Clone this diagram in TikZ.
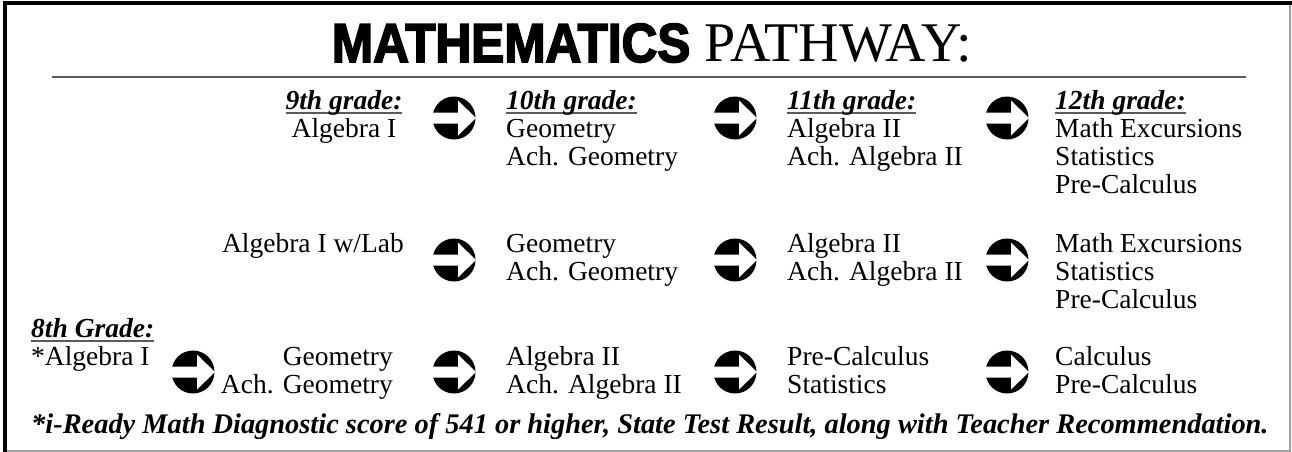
\documentclass[tikz,border=0pt]{standalone}
\usepackage{fontspec}
\setmainfont{Liberation Serif}
\newfontfamily\headfont[FakeStretch=0.9,FakeBold=3]{Liberation Sans}
\definecolor{rulegray}{HTML}{5A5A5A}
\definecolor{edgegray}{HTML}{A0A0A0}
\tikzset{course/.style={inner sep=0pt,font=\fontsize{27.5}{28}\selectfont},pics/nextsign/.style={code={\fill[black] (0,0) circle (21.5pt);\fill[white] (-23,-5.5)--(4,-5.5)--(4,-17.5)--(22,0)--(4,17.5)--(4,5.5)--(-23,5.5)--cycle;}}}
\newcommand\gradehead[1]{\setbox0\hbox{\bfseries\itshape #1}\rlap{\color{rulegray}\rule[-5pt]{\wd0}{1.8pt}}\box0}
\newcommand\stackL[1]{\begin{tabular}[t]{@{}l@{}}#1\end{tabular}}
\newcommand\stackR[1]{\begin{tabular}[t]{@{}r@{}}#1\end{tabular}}
\newcommand\stackC[1]{\begin{tabular}[t]{@{}c@{}}#1\end{tabular}}

\begin{document}
\begin{tikzpicture}[x=1pt,y=-1pt]
\useasboundingbox (0,0) rectangle (1292,452);
% frame and title
\draw[edgegray,line width=1.5pt] (1290,3.5)--(1290,451)--(4.5,451);
\draw[line width=4pt] (4.5,452)--(4.5,3.5)--(1292,3.5);
\node[inner sep=0pt,anchor=base,font=\fontsize{56}{56}\selectfont] (title) at (652,62) {{\headfont\bfseries\fontsize{55}{55}\selectfont MATHEMATICS} PATHWAY:};
\draw[rulegray,line width=1.8pt] (52,77)--(1246,77);
% first track
\node[course,anchor=base] (g9) at (344,109) {\stackC{\gradehead{9th grade:}\\Algebra I}};
\node[course,anchor=base west] (g10) at (506,109) {\stackL{\gradehead{10th grade:}\\Geometry\\Ach. Geometry}};
\node[course,anchor=base west] (g11) at (787,109) {\stackL{\gradehead{11th grade:}\\Algebra II\\Ach. Algebra II}};
\node[course,anchor=base west] (g12) at (1055,109) {\stackL{\gradehead{12th grade:}\\Math Excursions\\Statistics\\Pre-Calculus}};
% lab track
\node[course,anchor=base east] (lab9) at (404,252) {Algebra I w/Lab};
\node[course,anchor=base west] (lab10) at (506,252) {\stackL{Geometry\\Ach. Geometry}};
\node[course,anchor=base west] (lab11) at (787,252) {\stackL{Algebra II\\Ach. Algebra II}};
\node[course,anchor=base west] (lab12) at (1055,252) {\stackL{Math Excursions\\Statistics\\Pre-Calculus}};
% accelerated track
\node[course,anchor=base west] (g8) at (31,337) {\stackL{\gradehead{8th Grade:}\\{*}Algebra I}};
\node[course,anchor=base east] (adv9) at (393,365) {\stackR{Geometry\\Ach. Geometry}};
\node[course,anchor=base west] (adv10) at (506,365) {\stackL{Algebra II\\Ach. Algebra II}};
\node[course,anchor=base west] (adv11) at (787,365) {\stackL{Pre-Calculus\\Statistics}};
\node[course,anchor=base west] (adv12) at (1055,365) {\stackL{Calculus\\Pre-Calculus}};
\foreach \n/\x/\y in {a9/454/118,a10/735/118,a11/1007/118,b9/454/260,b10/735/260,b11/1007/260,c8/193/372,c9/454/372,c10/735/372,c11/1007/372}{
  \coordinate (\n) at (\x,\y);
  \pic at (\n) {nextsign};
}
\node[course,anchor=base west,font=\fontsize{28.4}{29}\selectfont\bfseries\itshape] (note) at (31,433) {*i-Ready Math Diagnostic score of 541 or higher, State Test Result, along with Teacher Recommendation.};
\end{tikzpicture}
\end{document}
